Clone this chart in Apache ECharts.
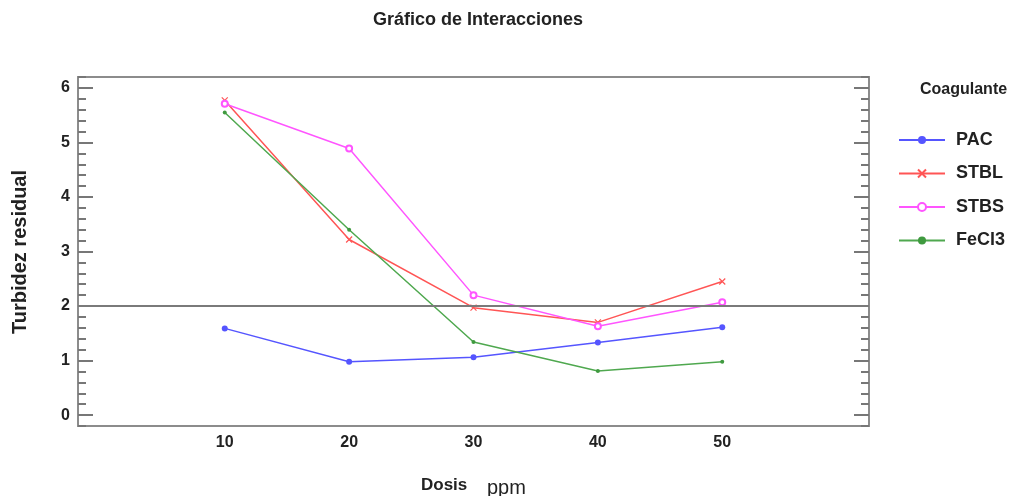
<!DOCTYPE html>
<html>
<head>
<meta charset="utf-8">
<script src="https://cdn.jsdelivr.net/npm/echarts@6/dist/echarts.min.js"></script>
<style>
  html, body { margin: 0; padding: 0; background: #fff; }
  #chart { width: 1028px; height: 496px; }
</style>
</head>
<body>
<div id="chart"></div>
<script>
// Dosis (ppm) and residual turbidity per coagulant
const dosis = [10, 20, 30, 40, 50];
const pac   = [1.59, 0.98, 1.06, 1.33, 1.61];
const stbl  = [5.77, 3.22, 1.97, 1.70, 2.45];
const stbs  = [5.71, 4.89, 2.20, 1.63, 2.07];
const fecl3 = [5.55, 3.40, 1.34, 0.81, 0.98];

const yMajor = [0, 1, 2, 3, 4, 5, 6];
const yMinor = [];
for (let v = -0.2; v <= 6.21; v += 0.2) yMinor.push(Math.round(v * 10) / 10);

const FONT = 'Liberation Sans, Arial, sans-serif';
const AXIS_GRAY = '#8c8c8c';
const TICK_GRAY = '#777';

const pairs = vals => dosis.map((d, i) => [d, vals[i]]);

const crossPath = 'path://M0,0L10,10M10,0L0,10';

const chart = echarts.init(document.getElementById('chart'), null, { renderer: 'canvas' });

const yBase = {
  type: 'value', min: -0.2, max: 6.2, gridIndex: 0,
  splitLine: { show: false },
  axisLine: { show: true, onZero: false, lineStyle: { color: AXIS_GRAY, width: 2 } }
};

chart.setOption({
  animation: false,
  title: {
    text: 'Gráfico de Interacciones',
    left: 473, top: 6, textAlign: 'center',
    textStyle: { fontFamily: FONT, fontSize: 18, fontWeight: 'bold', color: '#222' }
  },
  legend: {
    orient: 'vertical', left: 893, top: 126, itemGap: 15.5,
    itemWidth: 46, itemHeight: 10,
    textStyle: { fontFamily: FONT, fontSize: 18, fontWeight: 'bold', color: '#222', padding: [0, 0, 0, 6] },
    data: ['PAC', 'STBL', 'STBS', 'FeCl3']
  },
  graphic: [
    { type: 'text', left: 920, top: 82,
      style: { text: 'Coagulante', font: 'bold 16px ' + FONT, fill: '#222' } },
    { type: 'text', left: 421, top: 477,
      style: { text: 'Dosis', font: 'bold 17px ' + FONT, fill: '#222' } },
    { type: 'text', left: 487, top: 478,
      style: { text: 'ppm', font: '20px ' + FONT, fill: '#222' } },
    { type: 'text', x: 10, y: 252, rotation: Math.PI / 2, originX: 0, originY: 0,
      style: { text: 'Turbidez residual', font: 'bold 20px ' + FONT, fill: '#222',
               align: 'center', verticalAlign: 'top' } }
  ],
  grid: { left: 78, right: 159, top: 77, bottom: 70 },
  xAxis: [
    {
      type: 'value', min: -1.8, max: 61.8,
      axisLine: { show: true, onZero: false, lineStyle: { color: AXIS_GRAY, width: 2 } },
      axisTick: { show: false },
      splitLine: { show: false },
      axisLabel: { customValues: dosis, margin: 9,
                   fontFamily: FONT, fontSize: 16, fontWeight: 'bold', color: '#222' }
    },
    {
      type: 'value', min: -1.8, max: 61.8, position: 'top',
      axisLine: { show: true, onZero: false, lineStyle: { color: AXIS_GRAY, width: 2 } },
      axisTick: { show: false }, axisLabel: { show: false }, splitLine: { show: false }
    }
  ],
  yAxis: [
    Object.assign({}, yBase, {
      position: 'left',
      axisTick: { show: true, inside: true, length: 15, customValues: yMajor,
                  lineStyle: { color: TICK_GRAY, width: 2 } },
      axisLabel: { customValues: yMajor, margin: 8,
                   fontFamily: FONT, fontSize: 16, fontWeight: 'bold', color: '#222' }
    }),
    Object.assign({}, yBase, {
      position: 'left',
      axisTick: { show: true, inside: true, length: 8, customValues: yMinor,
                  lineStyle: { color: TICK_GRAY, width: 2 } },
      axisLabel: { show: false }
    }),
    Object.assign({}, yBase, {
      position: 'right',
      axisTick: { show: true, inside: true, length: 15, customValues: yMajor,
                  lineStyle: { color: TICK_GRAY, width: 2 } },
      axisLabel: { show: false }
    }),
    Object.assign({}, yBase, {
      position: 'right',
      axisTick: { show: true, inside: true, length: 8, customValues: yMinor,
                  lineStyle: { color: TICK_GRAY, width: 2 } },
      axisLabel: { show: false }
    })
  ],
  series: [
    {
      name: 'PAC', type: 'line', data: pairs(pac),
      symbol: 'circle', symbolSize: 6,
      itemStyle: { color: '#5555ff' },
      lineStyle: { color: '#5555ff', width: 1.5 },
      markLine: {
        silent: true, symbol: 'none', label: { show: false },
        lineStyle: { color: '#7a7a7a', width: 2, type: 'solid' },
        data: [{ yAxis: 2 }]
      },
      z: 3
    },
    {
      name: 'STBL', type: 'line', data: pairs(stbl),
      symbol: crossPath, symbolSize: 6,
      itemStyle: { color: '#ff5555', borderColor: '#ff5555', borderWidth: 1.2 },
      lineStyle: { color: '#ff5555', width: 1.5 },
      z: 3
    },
    {
      name: 'STBS', type: 'line', data: pairs(stbs),
      symbol: 'emptyCircle', symbolSize: 6,
      itemStyle: { color: '#ff55ff', borderWidth: 1.5 },
      lineStyle: { color: '#ff55ff', width: 1.5 },
      z: 3
    },
    {
      name: 'FeCl3', type: 'line', data: pairs(fecl3),
      symbol: 'circle', symbolSize: 4,
      itemStyle: { color: '#3f9a3f' },
      lineStyle: { color: '#4fa84f', width: 1.5 },
      z: 3
    }
  ]
});
</script>
</body>
</html>
